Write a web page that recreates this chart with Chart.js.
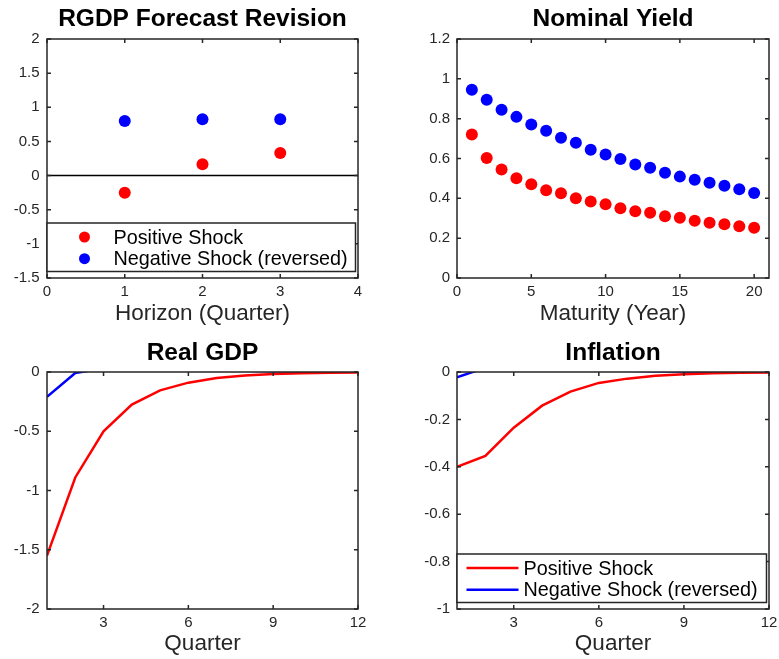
<!DOCTYPE html>
<html>
<head>
<meta charset="utf-8">
<title>Shock responses</title>
<script src="https://cdn.jsdelivr.net/npm/chart.js@4.4.1/dist/chart.umd.min.js"></script>
<style>
  body { margin: 0; background: #fff; }
  #wrap { position: relative; width: 779px; height: 659px; }
  canvas { position: absolute; }
</style>
</head>
<body>
<div id="wrap">
  <canvas id="rgdp" width="390" height="330" style="left:0;top:0"></canvas>
  <canvas id="yield" width="389" height="330" style="left:390px;top:0"></canvas>
  <canvas id="gdp" width="390" height="329" style="left:0;top:330px"></canvas>
  <canvas id="infl" width="389" height="329" style="left:390px;top:330px"></canvas>
</div>
<script>
// RGDP forecast revision
const horizon = [1, 2, 3];
const rgdpPositive = [-0.25, 0.165, 0.33];
const rgdpNegative = [0.80, 0.825, 0.825];
const horizonTicks = [0, 1, 2, 3, 4];
const rgdpTicks = [-1.5, -1, -0.5, 0, 0.5, 1, 1.5, 2];

// Nominal yield by maturity
const maturity = [1, 2, 3, 4, 5, 6, 7, 8, 9, 10, 11, 12, 13, 14, 15, 16, 17, 18, 19, 20];
const yieldPositive = [0.721, 0.602, 0.545, 0.501, 0.471, 0.441, 0.426, 0.401, 0.384, 0.370,
                       0.350, 0.335, 0.328, 0.310, 0.302, 0.287, 0.277, 0.270, 0.260, 0.252];
const yieldNegative = [0.945, 0.895, 0.845, 0.809, 0.771, 0.739, 0.704, 0.679, 0.644, 0.620,
                       0.597, 0.570, 0.553, 0.528, 0.509, 0.493, 0.478, 0.463, 0.446, 0.427];
const maturityTicks = [0, 5, 10, 15, 20];
const yieldTicks = [0, 0.2, 0.4, 0.6, 0.8, 1, 1.2];

// Impulse responses by quarter
const quarters = [1, 2, 3, 4, 5, 6, 7, 8, 9, 10, 11, 12];
const gdpPositive = [-1.55, -0.89, -0.50, -0.275, -0.155, -0.09, -0.05, -0.03, -0.017, -0.01, -0.006, -0.004];
const gdpNegative = [-0.21, -0.008, 0.03, 0.03, 0.025, 0.02, 0.015, 0.01, 0.007, 0.005, 0.003, 0.002];
const gdpTicks = [-2, -1.5, -1, -0.5, 0];
const inflPositive = [-0.40, -0.354, -0.235, -0.142, -0.083, -0.046, -0.028, -0.016, -0.009, -0.005, -0.003, -0.002];
const inflNegative = [-0.022, 0.018, 0.015, 0.012, 0.009, 0.007, 0.005, 0.003, 0.002, 0.001, 0.001, 0.0005];
const inflTicks = [-1, -0.8, -0.6, -0.4, -0.2, 0];
const quarterTicks = [3, 6, 9, 12];

const seriesNames = ['Positive Shock', 'Negative Shock (reversed)'];
const RED = '#ff0000';
const BLUE = '#0000ff';
const AXIS = '#262626';
const FONT = '"Liberation Sans", Arial, Helvetica, sans-serif';

Chart.defaults.font.family = FONT;

const pts = (xs, ys) => xs.map((x, i) => ({ x, y: ys[i] }));

// draws the box, inward tick marks, panel title and the boxed legend
const framePlugin = {
  id: 'frame',
  afterDatasetsDraw(chart, args, opts) {
    const { ctx, chartArea: a, scales: { x, y } } = chart;
    ctx.save();
    ctx.strokeStyle = AXIS;
    ctx.lineWidth = 1.5;
    ctx.beginPath();
    x.ticks.forEach(t => {
      const px = x.getPixelForValue(t.value);
      ctx.moveTo(px, a.bottom); ctx.lineTo(px, a.bottom - 4);
      ctx.moveTo(px, a.top); ctx.lineTo(px, a.top + 4);
    });
    y.ticks.forEach(t => {
      const py = y.getPixelForValue(t.value);
      ctx.moveTo(a.left, py); ctx.lineTo(a.left + 4, py);
      ctx.moveTo(a.right, py); ctx.lineTo(a.right - 4, py);
    });
    ctx.stroke();
    ctx.strokeRect(a.left, a.top, a.right - a.left, a.bottom - a.top);

    ctx.fillStyle = '#000';
    ctx.font = 'bold 24.5px ' + FONT;
    ctx.textAlign = 'center';
    ctx.textBaseline = 'alphabetic';
    ctx.fillText(opts.title, (a.left + a.right) / 2, opts.titleY);

    if (opts.legend) {
      const L = a.left, R = a.right - 2.5, B = a.bottom - 6.5, T = B - 48.5;
      ctx.fillStyle = '#fff';
      ctx.fillRect(L, T, R - L, B - T);
      ctx.strokeStyle = AXIS;
      ctx.lineWidth = 1.5;
      ctx.strokeRect(L, T, R - L, B - T);
      const items = chart.data.datasets.filter(d => d.label);
      ctx.font = '19.8px ' + FONT;
      ctx.textAlign = 'left';
      items.forEach((d, i) => {
        const ry = T + 14 + i * 21.7;
        if (opts.legend === 'marker') {
          ctx.fillStyle = d.pointBackgroundColor;
          ctx.beginPath();
          ctx.arc(L + 37.5, ry, 5.5, 0, Math.PI * 2);
          ctx.fill();
        } else {
          ctx.strokeStyle = d.borderColor;
          ctx.lineWidth = 2.5;
          ctx.beginPath();
          ctx.moveTo(L + 9.5, ry); ctx.lineTo(L + 61.5, ry);
          ctx.stroke();
        }
        ctx.fillStyle = '#000';
        ctx.fillText(d.label, L + 66.5, ry + 6.5);
      });
    }
    ctx.restore();
  }
};

function axis(min, max, ticks, size, title, titlePad, tickPad, horizontal) {
  return {
    type: 'linear',
    min, max,
    afterBuildTicks: s => { s.ticks = ticks.map(v => ({ value: v })); },
    afterFit: s => {
      if (horizontal) {
        s.height = size;
        // edge labels may hang past the plot box
        s.paddingLeft = 0;
        s.paddingRight = 0;
      } else {
        s.width = size;
        s.paddingTop = 0;
        s.paddingBottom = 0;
      }
    },
    grid: { display: false, drawTicks: false },
    border: { display: false },
    ticks: {
      autoSkip: false,
      maxRotation: 0,
      padding: tickPad,
      color: AXIS,
      font: { size: 15 },
      callback: v => String(v)
    },
    title: {
      display: !!title,
      text: title,
      color: AXIS,
      font: { size: 22.5 },
      padding: { top: 0, bottom: titlePad }
    }
  };
}

function makeChart(id, cfg) {
  return new Chart(document.getElementById(id), {
    type: cfg.type,
    data: { datasets: cfg.datasets },
    options: {
      responsive: false,
      animation: false,
      devicePixelRatio: 1,
      events: [],
      layout: { padding: { top: cfg.top, right: cfg.right, left: 0, bottom: 0 } },
      scales: { x: cfg.x, y: cfg.y },
      plugins: {
        legend: { display: false },
        tooltip: { enabled: false },
        frame: { title: cfg.title, titleY: cfg.titleY, legend: cfg.legend }
      }
    },
    plugins: [framePlugin]
  });
}

const dot = (label, xs, ys, color) => ({
  label, data: pts(xs, ys),
  pointRadius: 6, pointBackgroundColor: color, pointBorderWidth: 0, showLine: false
});
const curve = (label, xs, ys, color) => ({
  label, data: pts(xs, ys),
  borderColor: color, borderWidth: 2.5, pointRadius: 0, fill: false, tension: 0, clip: 0
});

makeChart('rgdp', {
  type: 'scatter',
  top: 39, right: 32, title: 'RGDP Forecast Revision', titleY: 26, legend: 'marker',
  datasets: [
    dot(seriesNames[0], horizon, rgdpPositive, RED),
    dot(seriesNames[1], horizon, rgdpNegative, BLUE),
    {
      data: [{ x: horizonTicks[0], y: 0 }, { x: horizonTicks[horizonTicks.length - 1], y: 0 }],
      showLine: true, borderColor: '#000', borderWidth: 1.5, pointRadius: 0
    }
  ],
  x: axis(0, 4, horizonTicks, 52, 'Horizon (Quarter)', 3, 5, true),
  y: axis(-1.5, 2, rgdpTicks, 47, '', 0, 7.5, false)
});

makeChart('yield', {
  type: 'scatter',
  top: 39, right: 10, title: 'Nominal Yield', titleY: 26,
  datasets: [
    dot(seriesNames[0], maturity, yieldPositive, RED),
    dot(seriesNames[1], maturity, yieldNegative, BLUE)
  ],
  x: axis(0, 21, maturityTicks, 52, 'Maturity (Year)', 3, 5, true),
  y: axis(0, 1.2, yieldTicks, 67, '', 0, 7, false)
});

makeChart('gdp', {
  type: 'line',
  top: 42, right: 32, title: 'Real GDP', titleY: 30,
  datasets: [
    curve(seriesNames[0], quarters, gdpPositive, RED),
    curve(seriesNames[1], quarters, gdpNegative, BLUE)
  ],
  x: axis(1, 12, quarterTicks, 50, 'Quarter', 1.5, 5, true),
  y: axis(-2, 0, gdpTicks, 47, '', 0, 7.5, false)
});

makeChart('infl', {
  type: 'line',
  top: 42, right: 10, title: 'Inflation', titleY: 30, legend: 'line',
  datasets: [
    curve(seriesNames[0], quarters, inflPositive, RED),
    curve(seriesNames[1], quarters, inflNegative, BLUE)
  ],
  x: axis(1, 12, quarterTicks, 50, 'Quarter', 1.5, 5, true),
  y: axis(-1, 0, inflTicks, 67, '', 0, 7, false)
});
</script>
</body>
</html>
